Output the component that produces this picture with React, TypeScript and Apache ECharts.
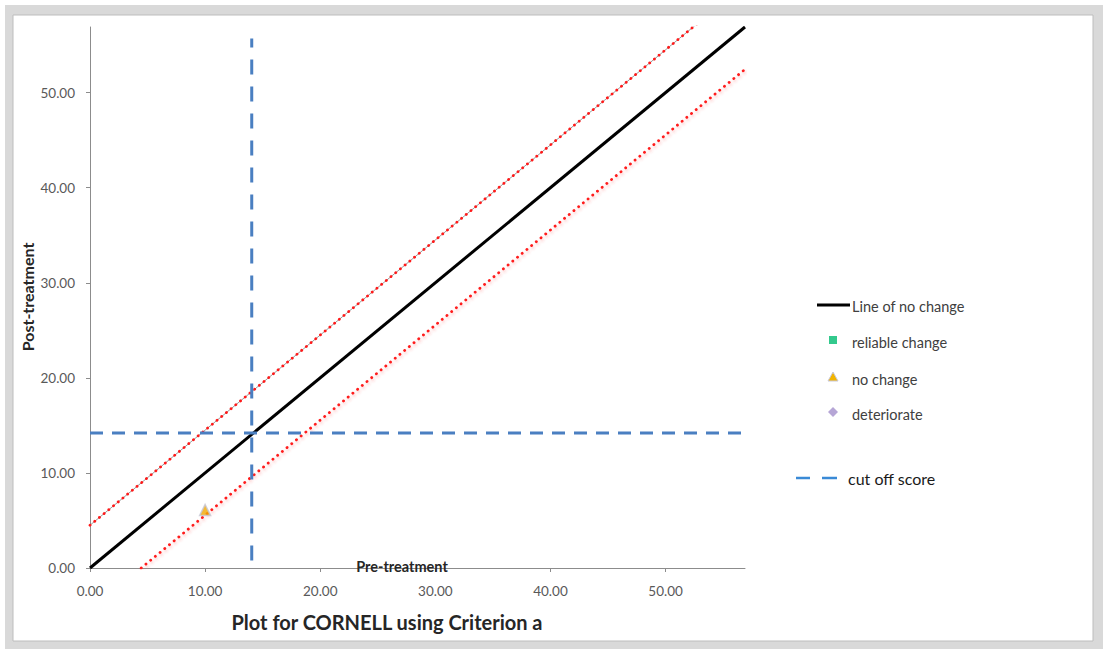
import { useEffect, useRef } from "react";
import * as echarts from "echarts";

// Axis ticks
const xTicks = [0, 10, 20, 30, 40, 50];
const yTicks = [0, 10, 20, 30, 40, 50];
const axisMax = 56.9;

// Reference lines (pre, post)
const noChangeLine = [[0, 0], [56.9, 56.9]];
const reliableUpper = [[0, 4.5], [56.9, 61.4]];
const reliableLower = [[4.45, 0], [56.9, 52.45]];
const cutOffVertical = [[14.05, 0.8], [14.05, 55.7]];
const cutOffHorizontal = [[0, 14.2], [56.9, 14.2]];

// Patients (pre, post)
const reliableChange: number[][] = [];
const noChange = [[10, 6.1]];
const deteriorate: number[][] = [];

const legendLabels = ["Line of no change", "reliable change", "no change", "deteriorate"];
const cutOffLabel = "cut off score";
const chartTitle = "Plot for CORNELL using Criterion a";
const xName = "Pre-treatment";
const yName = "Post-treatment";

const FONT = "Lato, 'Open Sans', sans-serif";
const BLUE = "#4a7fc1";

export default function App() {
  const ref = useRef<HTMLDivElement>(null);

  useEffect(() => {
    if (!ref.current) return;
    const chart = echarts.init(ref.current, undefined, { renderer: "svg" });

    const legendY = [305, 341, 378, 413];

    chart.setOption({
      animation: false,
      backgroundColor: "#ffffff",
      grid: { left: 90, top: 27, right: 358, bottom: 81, containLabel: false },
      xAxis: {
        type: "value",
        min: 0,
        max: axisMax,
        interval: 10,
        splitLine: { show: false },
        axisLine: { show: true, lineStyle: { color: "#8c8c8c", width: 1 } },
        axisTick: { show: true, length: 4, customValues: xTicks, lineStyle: { color: "#8c8c8c" } },
        axisLabel: {
          customValues: xTicks,
          formatter: (v: number) => v.toFixed(2),
          color: "#595959",
          fontFamily: FONT,
          fontSize: 13.5,
          margin: 16,
        },
      },
      yAxis: {
        type: "value",
        min: 0,
        max: axisMax,
        interval: 10,
        splitLine: { show: false },
        axisLine: { show: true, lineStyle: { color: "#8c8c8c", width: 1 } },
        axisTick: { show: true, length: 4, customValues: yTicks, lineStyle: { color: "#8c8c8c" } },
        axisLabel: {
          customValues: yTicks,
          formatter: (v: number) => v.toFixed(2),
          color: "#595959",
          fontFamily: FONT,
          fontSize: 13.5,
          margin: 15,
        },
      },
      series: [
        {
          name: "upperGuide",
          type: "line",
          data: reliableUpper,
          symbol: "none",
          silent: true,
          lineStyle: { color: "#9a9a9a", width: 1 },
          z: 3,
        },
        {
          name: "reliableUpper",
          type: "line",
          data: reliableUpper,
          symbol: "none",
          lineStyle: { color: "#ff1a1a", width: 2.8, type: [0.1, 6], cap: "round" },
          z: 4,
        },
        {
          name: "reliableLower",
          type: "line",
          data: reliableLower,
          symbol: "none",
          lineStyle: {
            color: "#ff1a1a",
            width: 2.8,
            type: [0.1, 6],
            cap: "round",
            shadowColor: "rgba(255,60,60,0.35)",
            shadowBlur: 3,
            shadowOffsetX: 1,
            shadowOffsetY: 2,
          },
          z: 4,
        },
        {
          name: legendLabels[0],
          type: "line",
          data: noChangeLine,
          symbol: "none",
          lineStyle: { color: "#000000", width: 3 },
          z: 5,
        },
        {
          name: "cutOffVertical",
          type: "line",
          data: cutOffVertical,
          symbol: "none",
          lineStyle: { color: BLUE, width: 3, type: [15, 12] },
          z: 6,
        },
        {
          name: "cutOffHorizontal",
          type: "line",
          data: cutOffHorizontal,
          symbol: "none",
          lineStyle: { color: BLUE, width: 3, type: [13, 9] },
          z: 6,
        },
        {
          name: legendLabels[1],
          type: "scatter",
          data: reliableChange,
          symbol: "rect",
          symbolSize: 9,
          itemStyle: { color: "#33c98d" },
          z: 7,
        },
        {
          name: legendLabels[2],
          type: "scatter",
          data: noChange,
          symbol: "triangle",
          symbolSize: 11,
          itemStyle: { color: "#f2a900", borderColor: "#c6c6d6", borderWidth: 1.5 },
          z: 7,
        },
        {
          name: legendLabels[3],
          type: "scatter",
          data: deteriorate,
          symbol: "diamond",
          symbolSize: 10,
          itemStyle: { color: "#b6a6d6" },
          z: 7,
        },
      ],
      graphic: {
        elements: [
          // frame
          { type: "rect", z: -10, shape: { x: 5, y: 5, width: 1098, height: 644 }, style: { fill: "#d9d9d9" } },
          {
            type: "rect",
            z: -9,
            shape: { x: 13, y: 15, width: 1080, height: 626 },
            style: { fill: "#ffffff", stroke: "#bdbdbd", lineWidth: 1 },
          },
          // vertical axis name
          {
            type: "text",
            x: 27,
            y: 297,
            rotation: Math.PI / 2,
            z: 10,
            style: {
              text: yName,
              fontFamily: FONT,
              fontSize: 16,
              fontWeight: "bold",
              fill: "#262626",
              align: "center",
              verticalAlign: "middle",
            },
          },
          // horizontal axis name
          {
            type: "text",
            x: 402,
            y: 566,
            z: 10,
            style: {
              text: xName,
              fontFamily: FONT,
              fontSize: 14.5,
              fontWeight: "bold",
              fill: "#262626",
              align: "center",
              verticalAlign: "middle",
            },
          },
          // title
          {
            type: "text",
            x: 387,
            y: 622,
            z: 10,
            style: {
              text: chartTitle,
              fontFamily: FONT,
              fontSize: 20,
              fontWeight: "bold",
              fill: "#262626",
              align: "center",
              verticalAlign: "middle",
            },
          },
          // legend
          { type: "line", z: 10, shape: { x1: 817, y1: legendY[0], x2: 850, y2: legendY[0] }, style: { stroke: "#000", lineWidth: 3 } },
          { type: "rect", z: 10, shape: { x: 829, y: legendY[1] - 5, width: 8, height: 8 }, style: { fill: "#33c98d" } },
          {
            type: "polygon",
            z: 10,
            shape: { points: [[833, legendY[2] - 6], [838, legendY[2] + 3], [828, legendY[2] + 3]] },
            style: { fill: "#f2b400", stroke: "#c8c8d8", lineWidth: 1 },
          },
          {
            type: "polygon",
            z: 10,
            shape: { points: [[833, legendY[3] - 6], [838, legendY[3] - 1], [833, legendY[3] + 4], [828, legendY[3] - 1]] },
            style: { fill: "#b6a6d6" },
          },
          ...legendLabels.map((label, i) => ({
            type: "text",
            x: 852,
            y: legendY[i] + 1,
            z: 10,
            style: {
              text: label,
              fontFamily: FONT,
              fontSize: 14.5,
              fill: "#404040",
              align: "left",
              verticalAlign: "middle",
            },
          })),
          { type: "line", z: 10, shape: { x1: 796, y1: 478, x2: 810, y2: 478 }, style: { stroke: "#3a8ad6", lineWidth: 2.5 } },
          { type: "line", z: 10, shape: { x1: 822, y1: 478, x2: 837, y2: 478 }, style: { stroke: "#3a8ad6", lineWidth: 2.5 } },
          {
            type: "text",
            x: 848,
            y: 478,
            z: 10,
            style: {
              text: cutOffLabel,
              fontFamily: FONT,
              fontSize: 16,
              fill: "#1a1a1a",
              align: "left",
              verticalAlign: "middle",
            },
          },
        ],
      },
    });

    return () => chart.dispose();
  }, []);

  return (
    <div
      ref={ref}
      style={{ position: "absolute", left: 0, top: 0, width: 1103, height: 649, background: "#ffffff" }}
    />
  );
}
